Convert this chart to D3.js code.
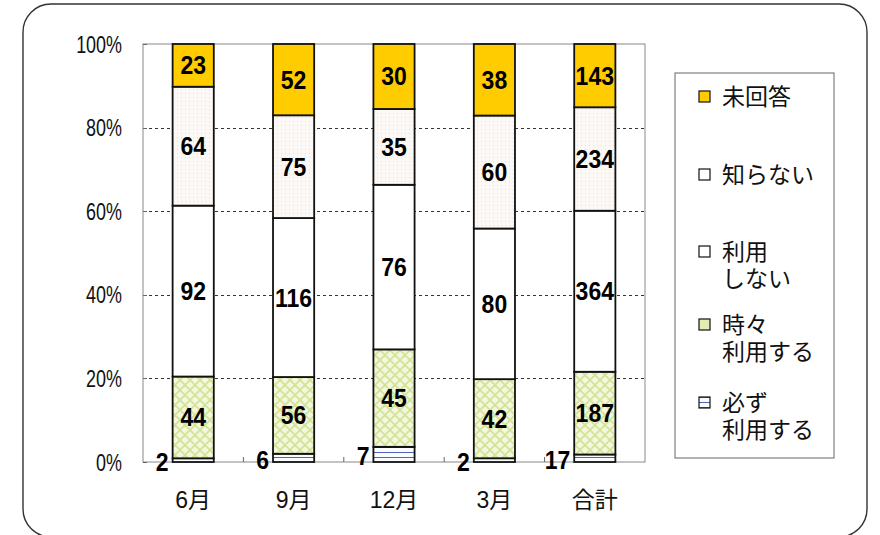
<!DOCTYPE html>
<html>
<head>
<meta charset="utf-8">
<script src="https://cdn.jsdelivr.net/npm/d3@7"></script>
<style>
  body { margin: 0; background: #fff; }
  svg text { font-family: "Liberation Sans", "Noto Sans CJK JP", sans-serif; }
</style>
</head>
<body>
<div id="chart"></div>
<script>
// data, bottom series first
var months = ["6月", "9月", "12月", "3月", "合計"];
var seriesKeys = ["always", "sometimes", "notUse", "unknown", "noAnswer"];
var always    = [2, 6, 7, 2, 17];
var sometimes = [44, 56, 45, 42, 187];
var notUse    = [92, 116, 76, 80, 364];
var unknown   = [64, 75, 35, 60, 234];
var noAnswer  = [23, 52, 30, 38, 143];
var legendLines = [["未回答"], ["知らない"], ["利用", "しない"], ["時々", "利用する"], ["必ず", "利用する"]];
var yTicks = [0, 0.2, 0.4, 0.6, 0.8, 1];

var rows = months.map(function(m, i) {
  return {month: m, always: always[i], sometimes: sometimes[i], notUse: notUse[i],
          unknown: unknown[i], noAnswer: noAnswer[i]};
});

var W = 880, H = 535;
var plot = {left: 143, top: 44, right: 645, bottom: 462};

var svg = d3.select("#chart").append("svg")
  .attr("width", W).attr("height", H);

// patterns
var defs = svg.append("defs");
var pDots = defs.append("pattern").attr("id", "pDots")
  .attr("patternUnits", "userSpaceOnUse").attr("width", 4).attr("height", 4);
pDots.append("rect").attr("width", 4).attr("height", 4).attr("fill", "#fcf8f5");
pDots.append("rect").attr("x", 1).attr("y", 1).attr("width", 1).attr("height", 1).attr("fill", "#eadfd6");

var pLattice = defs.append("pattern").attr("id", "pLattice")
  .attr("patternUnits", "userSpaceOnUse").attr("width", 10).attr("height", 10);
pLattice.append("rect").attr("width", 10).attr("height", 10).attr("fill", "#f3f7dc");
pLattice.append("path").attr("d", "M0,0L10,10M10,0L0,10M-5,5L5,15M5,-5L15,5M-5,5L5,-5M5,15L15,5")
  .attr("stroke", "#d2e297").attr("stroke-width", 1.6);

var pLines = defs.append("pattern").attr("id", "pLines")
  .attr("patternUnits", "userSpaceOnUse").attr("width", 6).attr("height", 5);
pLines.append("rect").attr("width", 6).attr("height", 5).attr("fill", "#fafbff");
pLines.append("line").attr("x1", 0).attr("x2", 6).attr("y1", 2.5).attr("y2", 2.5)
  .attr("stroke", "#5262b8").attr("stroke-width", 1);

var fills = {always: "url(#pLines)", sometimes: "url(#pLattice)", notUse: "#ffffff",
             unknown: "url(#pDots)", noAnswer: "#ffcc00"};
var swatchFills = {always: "url(#pLines)", sometimes: "#e4ecb4", notUse: "#ffffff",
                   unknown: "#ffffff", noAnswer: "#ffcc00"};

// outer frame
svg.append("rect")
  .attr("x", 23).attr("y", 4).attr("width", 844).attr("height", 533)
  .attr("rx", 28).attr("ry", 28)
  .attr("fill", "#fff").attr("stroke", "#333").attr("stroke-width", 1.4);

// scales
var x = d3.scaleBand().domain(months).range([plot.left, plot.right]);
var y = d3.scaleLinear().domain([0, 1]).range([plot.bottom, plot.top]);
var barW = x.bandwidth() * 0.41;

// plot border
svg.append("rect")
  .attr("x", plot.left).attr("y", plot.top)
  .attr("width", plot.right - plot.left).attr("height", plot.bottom - plot.top)
  .attr("fill", "#fff").attr("stroke", "#888").attr("stroke-width", 1);

// gridlines
svg.append("g").selectAll("line")
  .data(yTicks.filter(function(d) { return d > 0 && d < 1; }))
  .enter().append("line")
  .attr("x1", plot.left).attr("x2", plot.right)
  .attr("y1", function(d) { return Math.round(y(d)) + 0.5; })
  .attr("y2", function(d) { return Math.round(y(d)) + 0.5; })
  .attr("stroke", "#333").attr("stroke-width", 1).attr("stroke-dasharray", "3,3");

// y axis labels
var yAxis = svg.append("g")
  .attr("transform", "translate(" + plot.left + ",0)")
  .call(d3.axisLeft(y).tickValues(yTicks).tickFormat(d3.format(".0%")).tickSize(0).tickPadding(21));
yAxis.select(".domain").remove();
yAxis.selectAll("text")
  .attr("font-family", "Liberation Sans, sans-serif")
  .attr("font-size", 23).attr("fill", "#111")
  .attr("dy", "0.35em")
  .attr("transform", function() {
    return "translate(" + (+d3.select(this).attr("x")) * (1 - 0.78) + ",0) scale(0.78,1)";
  });
// small inward ticks on y
svg.append("g").selectAll("line")
  .data(yTicks).enter().append("line")
  .attr("x1", plot.left).attr("x2", plot.left + 4)
  .attr("y1", function(d) { return Math.round(y(d)) + 0.5; })
  .attr("y2", function(d) { return Math.round(y(d)) + 0.5; })
  .attr("stroke", "#666");

// x ticks at category boundaries
svg.append("g").selectAll("line")
  .data(months.slice(1)).enter().append("line")
  .attr("x1", function(d) { return x(d); }).attr("x2", function(d) { return x(d); })
  .attr("y1", plot.bottom).attr("y2", plot.bottom - 5)
  .attr("stroke", "#666");

// x labels
svg.append("g").selectAll("text")
  .data(months).enter().append("text")
  .attr("x", function(d) { return x(d) + x.bandwidth() / 2; })
  .attr("y", 500)
  .attr("dy", "0.35em")
  .attr("text-anchor", "middle")
  .attr("font-size", 23).attr("fill", "#111")
  .text(function(d) { return d; });

// stacked bars
var stack = d3.stack().keys(seriesKeys).offset(d3.stackOffsetExpand);
var stacked = stack(rows);

var layers = svg.append("g").selectAll("g")
  .data(stacked).enter().append("g")
  .attr("fill", function(d) { return fills[d.key]; });

layers.selectAll("rect")
  .data(function(d) { return d; })
  .enter().append("rect")
  .attr("x", function(d) { return x(d.data.month) + (x.bandwidth() - barW) / 2; })
  .attr("y", function(d) { return y(d[1]); })
  .attr("width", barW)
  .attr("height", function(d) { return y(d[0]) - y(d[1]); })
  .attr("stroke", "#111").attr("stroke-width", 1.8);

// value labels
stacked.forEach(function(layer) {
  layer.forEach(function(d) {
    var v = d.data[layer.key];
    var cx = x(d.data.month) + x.bandwidth() / 2;
    var cy = (y(d[0]) + y(d[1])) / 2;
    var small = layer.key === "always";
    var tx = small ? cx - barW / 2 - 4 : cx;
    var ty = small ? cy + 2 : cy;
    svg.append("text")
      .attr("transform", "translate(" + tx + "," + ty + ") scale(0.92,1)")
      .attr("dy", "0.36em")
      .attr("text-anchor", small ? "end" : "middle")
      .attr("font-family", "Liberation Sans, sans-serif")
      .attr("font-weight", "bold").attr("font-size", 25).attr("fill", "#000")
      .text(v);
  });
});

// legend
var legend = svg.append("g");
legend.append("rect")
  .attr("x", 675).attr("y", 73).attr("width", 159).attr("height", 385)
  .attr("fill", "#fff").attr("stroke", "#666").attr("stroke-width", 1);

var legendY = [97, 175, 252, 325, 403];
var legendKeys = seriesKeys.slice().reverse();
legendKeys.forEach(function(k, i) {
  var g = legend.append("g");
  g.append("rect")
    .attr("x", 699).attr("y", legendY[i] - 6).attr("width", 11).attr("height", 11)
    .attr("fill", swatchFills[k]).attr("stroke", "#111").attr("stroke-width", 1.2);
  legendLines[i].forEach(function(line, j) {
    g.append("text")
      .attr("x", 722).attr("y", legendY[i] + j * 27)
      .attr("dy", "0.35em")
      .attr("font-family", "Noto Sans CJK JP, sans-serif")
      .attr("font-size", 23).attr("fill", "#111")
      .text(line);
  });
});
</script>
</body>
</html>
